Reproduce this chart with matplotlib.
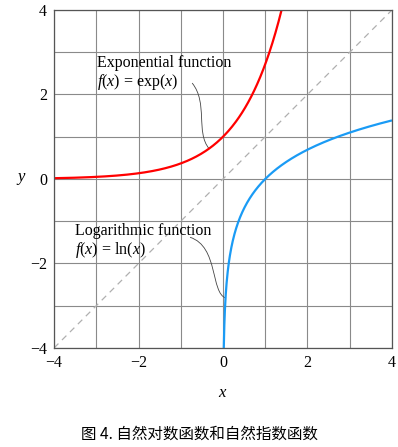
import numpy as np
import matplotlib
matplotlib.use("Agg")
import matplotlib.pyplot as plt
from matplotlib.path import Path
from matplotlib.patches import PathPatch

plt.rcParams['font.family'] = ['Liberation Serif', 'DejaVu Serif']
plt.rcParams['mathtext.fontset'] = 'custom'
plt.rcParams['mathtext.rm'] = 'Liberation Serif'
plt.rcParams['mathtext.it'] = 'Liberation Serif:italic'

# axis range and ticks
x_lim = [-4, 4]
y_lim = [-4, 4]
major_ticks = [-4, -2, 0, 2, 4]
grid_ticks = [-4, -3, -2, -1, 0, 1, 2, 3, 4]

# function samples
x_exp = np.linspace(-4, np.log(4), 300)
y_exp = np.exp(x_exp)
x_log = np.linspace(np.exp(-4), 4, 600)
y_log = np.log(x_log)

exp_label = "Exponential function\n$f(x)$ = exp($x$)"
log_label = "Logarithmic function\n$f(x)$ = ln($x$)"
caption = "图 4. 自然对数函数和自然指数函数"

fig = plt.figure(figsize=(3.98, 4.47), dpi=100)
ax = fig.add_axes([0.1357, 0.2215, 0.8492, 0.7562])

ax.set_xlim(x_lim)
ax.set_ylim(y_lim)
ax.set_xticks(grid_ticks, minor=True)
ax.set_yticks(grid_ticks, minor=True)
ax.set_xticks(major_ticks)
ax.set_yticks(major_ticks)
ax.set_xticklabels([str(t).replace('-', '\u2212') for t in major_ticks])
ax.set_yticklabels([str(t).replace('-', '\u2212') for t in major_ticks])
ax.tick_params(which='both', length=0, labelsize=11.5, pad=5, colors='black')
ax.grid(which='both', color='#8a8a8a', linewidth=0.8)
ax.set_axisbelow(True)
for s in ax.spines.values():
    s.set_color('#555555')
    s.set_linewidth(0.9)

# diagonal y = x
ax.plot(x_lim, y_lim, color='#b0b0b0', linewidth=0.9, dashes=(5, 4))

ax.plot(x_exp, y_exp, color='#ff0000', linewidth=1.6, solid_capstyle='butt')
ax.plot(x_log, y_log, color='#1a9bf5', linewidth=1.6, solid_capstyle='butt')

ax.text(-2.98, 2.06, exp_label, fontsize=11.5, ha='left', va='bottom', linespacing=1.05)
ax.text(-3.5, -1.92, log_label, fontsize=11.5, ha='left', va='bottom', linespacing=1.05)

# wavy leader lines
exp_leader = Path([(-0.73, 2.27), (-0.35, 1.8), (-0.65, 1.1), (-0.33, 0.72)],
                  [Path.MOVETO, Path.CURVE4, Path.CURVE4, Path.CURVE4])
log_leader = Path([(-0.78, -1.38), (-0.1, -1.6), (-0.3, -2.7), (0.07, -2.82)],
                  [Path.MOVETO, Path.CURVE4, Path.CURVE4, Path.CURVE4])
for p in (exp_leader, log_leader):
    ax.add_patch(PathPatch(p, facecolor='none', edgecolor='#444444', linewidth=0.6))

ax.set_xlabel('$x$', fontsize=12, labelpad=10)
ax.set_ylabel('$y$', fontsize=12, rotation=0, labelpad=6, va='center')

fig.text(0.5, 0.029, caption, ha='center', va='center', fontsize=11.2,
         family=['Noto Sans CJK SC', 'DejaVu Sans'])

fig.savefig('out.png', dpi=100)
